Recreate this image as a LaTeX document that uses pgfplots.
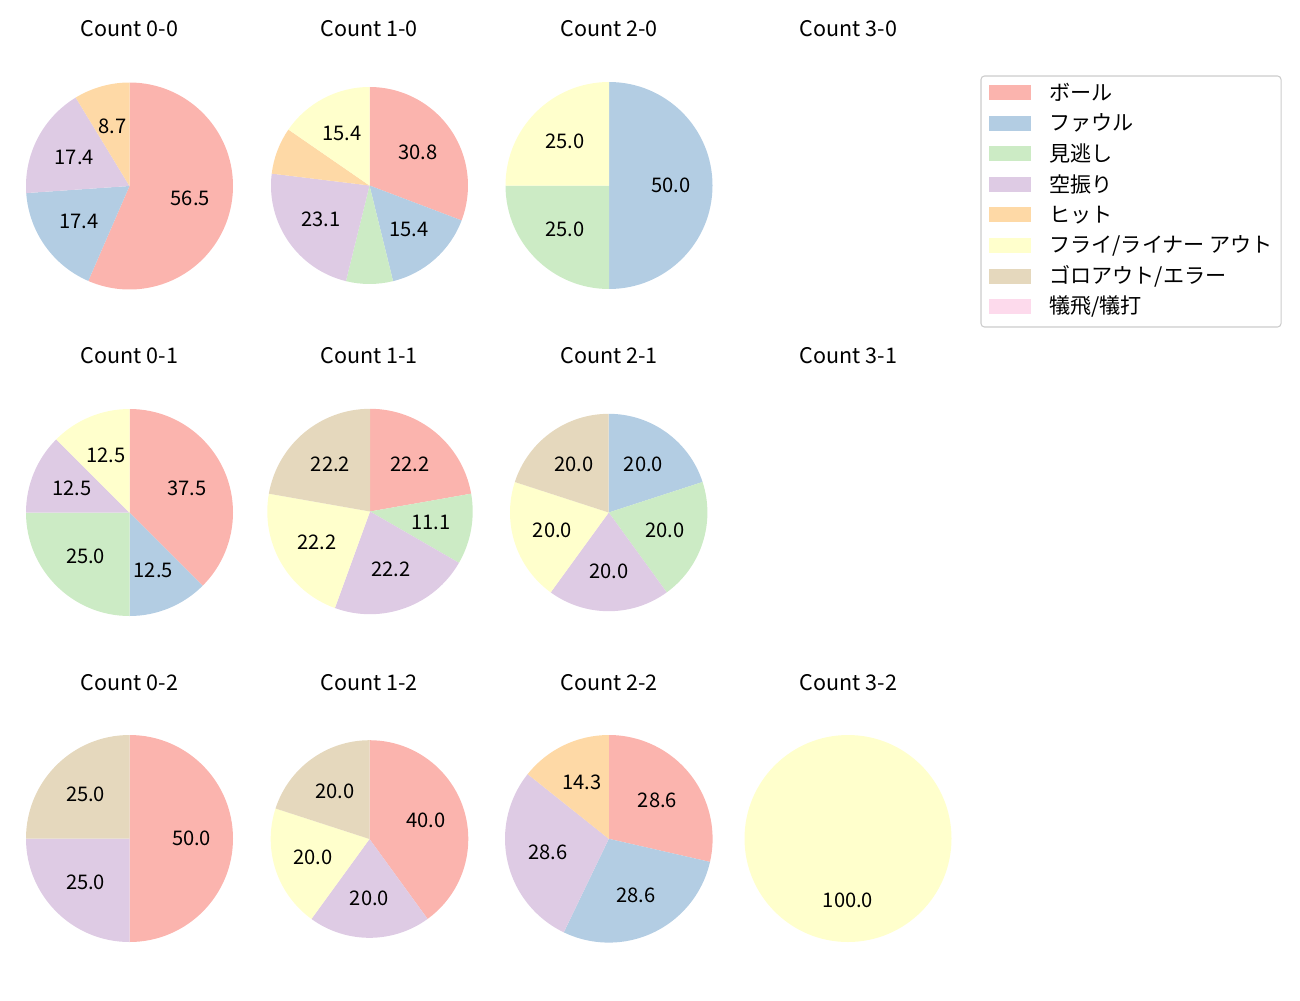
\documentclass[border=0pt]{standalone}
\usepackage{pgfplots}
\pgfplotsset{compat=1.18}
\usepackage{fontspec}
\setmainfont{Noto Sans CJK JP}
\definecolor{P1}{HTML}{FBB4AE}
\definecolor{P2}{HTML}{B3CDE3}
\definecolor{P3}{HTML}{CCEBC5}
\definecolor{P4}{HTML}{DECBE4}
\definecolor{P5}{HTML}{FED9A6}
\definecolor{P6}{HTML}{FFFFCC}
\definecolor{P7}{HTML}{E5D8BD}
\definecolor{P8}{HTML}{FDDAEC}
\def\u{0.72pt}
\newcommand\lbl{\fontsize{14.5pt}{17pt}\selectfont}
\newcommand\ttl{\fontsize{15.5pt}{18pt}\selectfont}
\newcommand\leg{\fontsize{15.2pt}{18pt}\selectfont}

% \pie{cx px}{cy px}{radius px}{total}{count/colour,...}
\newcommand\pie[5]{%
  \pgfmathsetlengthmacro\rr{#3*\u}%
  \begin{axis}[at={({#1*\u},{-#2*\u})}, anchor=origin, hide axis,
    scale only axis, x=\rr, y=\rr, xmin=-1, xmax=1, ymin=-1, ymax=1, clip=false]
    \gdef\cum{90}%
    \foreach \v/\c in {#5}{%
      \pgfmathsetmacro\d{360*\v/#4}%
      \pgfmathsetmacro\e{\cum-\d}%
      \pgfmathsetmacro\sx{cos(\cum)}%
      \pgfmathsetmacro\sy{sin(\cum)}%
      \edef\tmp{\noexpand\fill[\c] (axis cs:0,0) -- (axis cs:\sx,\sy)
        arc[start angle=\cum, end angle=\e, radius=\rr] -- cycle;}%
      \tmp
      \xdef\cum{\e}%
    }
    \gdef\cum{90}%
    \foreach \v/\c in {#5}{%
      \pgfmathsetmacro\d{360*\v/#4}%
      \pgfmathsetmacro\m{\cum-\d/2}%
      \pgfmathsetmacro\p{100*\v/#4}%
      \pgfmathsetmacro\lx{0.6*cos(\m)}%
      \pgfmathsetmacro\ly{0.6*sin(\m)}%
      \ifdim\p pt>8pt
        \edef\tmp{\noexpand\node[font=\noexpand\lbl, text=black] at (axis cs:\lx,\ly)
          {\noexpand\pgfmathprintnumber[fixed,fixed zerofill,precision=1,assume math mode=true]{\p}};}%
        \tmp
      \fi
      \pgfmathsetmacro\e{\cum-\d}%
      \xdef\cum{\e}%
    }
  \end{axis}}

\begin{document}
\begin{tikzpicture}
\useasboundingbox (0,0) rectangle ({1300*\u},{-1000*\u});

% Count b-s : ball, foul, looking, swinging, hit, fly/liner out, grounder/error
\pie{129.5}{186}{103.5}{23}{13/P1,4/P2,4/P4,2/P5}
\pie{369.5}{185.5}{98.5}{13}{4/P1,2/P2,1/P3,3/P4,1/P5,2/P6}
\pie{609}{185.5}{103.5}{4}{2/P2,1/P3,1/P6}
\pie{129.5}{512.5}{103.5}{8}{3/P1,1/P2,2/P3,1/P4,1/P6}
\pie{370}{511.5}{102.7}{9}{2/P1,1/P3,2/P4,2/P6,2/P7}
\pie{608.7}{512.5}{98.7}{5}{1/P2,1/P3,1/P4,1/P6,1/P7}
\pie{129.5}{838.5}{103.5}{4}{2/P1,1/P4,1/P7}
\pie{369.5}{839}{98.8}{5}{2/P1,1/P4,1/P6,1/P7}
\pie{608.8}{838.8}{103.8}{7}{2/P1,2/P2,2/P4,1/P5}
\pie{848}{838.5}{103.5}{1}{1/P6}

\foreach \cx/\cy/\t in {129.5/36.7/Count 0-0, 369/36.7/Count 1-0, 609/36.7/Count 2-0, 848.5/36.7/Count 3-0,
  129.5/363.5/Count 0-1, 369/363.5/Count 1-1, 609/363.5/Count 2-1, 848.5/363.5/Count 3-1,
  129.5/690/Count 0-2, 369/690/Count 1-2, 609/690/Count 2-2, 848.5/690/Count 3-2}
  \node[anchor=base, font=\ttl, inner sep=0] at ({\cx*\u},{-\cy*\u}) {\t};

% legend
\draw[rounded corners=2.5pt, draw=black!20, line width=0.75pt, fill=white]
  ({981*\u},{-76*\u}) rectangle ({1281*\u},{-327*\u});
\foreach \c/\t [count=\i from 0] in {P1/ボール, P2/ファウル, P3/見逃し, P4/空振り, P5/ヒット,
  P6/{フライ/ライナー アウト}, P7/{ゴロアウト/エラー}, P8/{犠飛/犠打}}{
  \pgfmathsetmacro\yy{92.5+30.6*\i}
  \fill[\c] ({989*\u},{-(\yy-7.5)*\u}) rectangle ({1031*\u},{-(\yy+7.5)*\u});
  \node[anchor=west, font=\leg, inner sep=0] at ({1049*\u},{-\yy*\u}) {\t};
}
\end{tikzpicture}
\end{document}
